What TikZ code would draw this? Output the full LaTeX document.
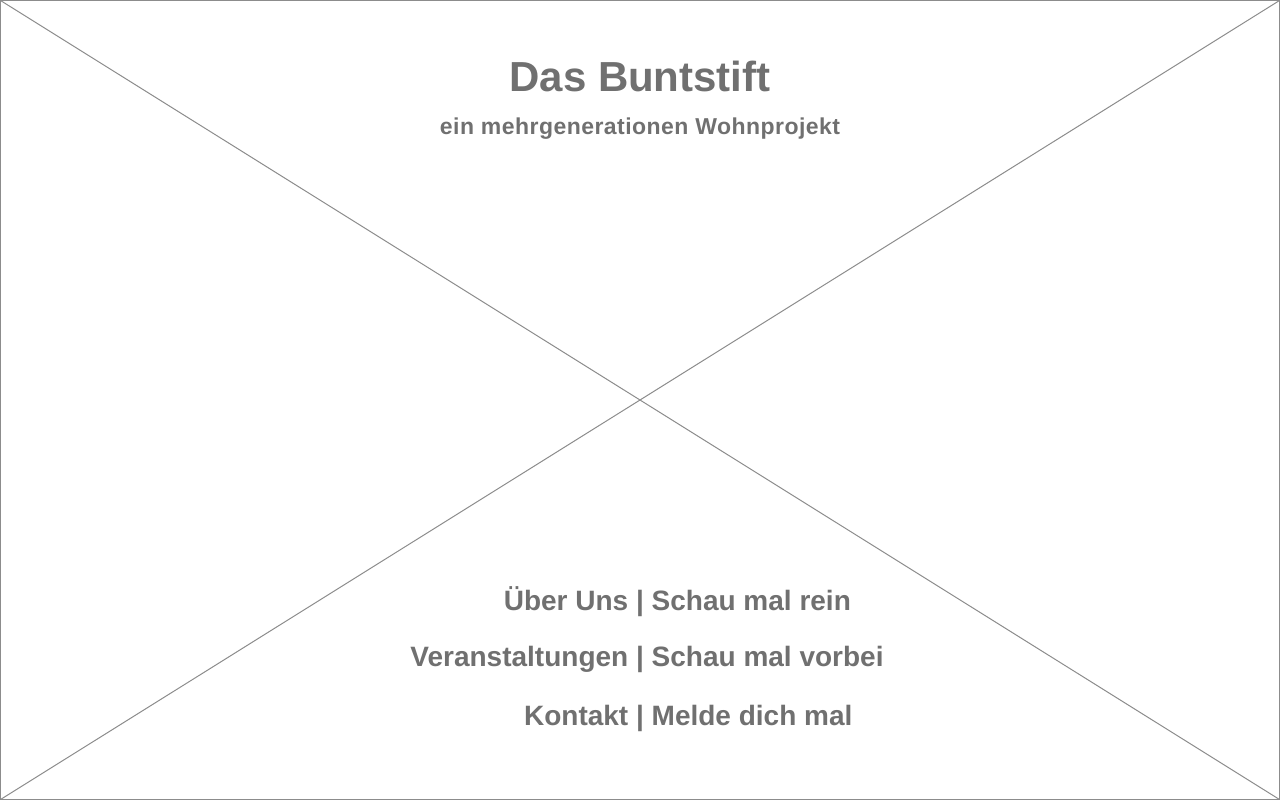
\documentclass[tikz,border=0pt]{standalone}
\usepackage{fontspec}
\setmainfont{Liberation Sans}
\newfontfamily\hv{Liberation Sans}
\newfontfamily\hvsp{Liberation Sans}[LetterSpace=2]
\definecolor{txtgray}{HTML}{707070}
\definecolor{linegray}{HTML}{8C8C8C}
\begin{document}
\begin{tikzpicture}[x=1pt,y=-1pt,
  txt/.style={inner sep=0pt,anchor=base,text=txtgray,font=\hv\bfseries},
  frame/.style={draw=linegray,line width=1pt}]
\useasboundingbox (0,0) rectangle (1280,800);
\coordinate (tl) at (0.5,0.5);
\coordinate (tr) at (1279.5,0.5);
\coordinate (bl) at (0.5,799.5);
\coordinate (br) at (1279.5,799.5);
\draw[frame] (tl) rectangle (br);
\draw[frame] (tl) -- (br);
\draw[frame] (tr) -- (bl);
\node[txt,font=\hv\bfseries\fontsize{42}{48}\selectfont] (title) at (640,91.7) {Das Buntstift};
\node[txt,font=\hvsp\bfseries\fontsize{23}{27}\selectfont] (sub) at (640,134) {ein mehrgenerationen Wohnprojekt};
\tikzset{menu/.style={txt,font=\hv\bfseries\fontsize{28}{32}\selectfont}}
\node[menu] (m1) at (640,610.7) {\makebox[0pt][r]{Über Uns }|\makebox[0pt][l]{ Schau mal rein}};
\node[menu] (m2) at (640,666.7) {\makebox[0pt][r]{Veranstaltungen }|\makebox[0pt][l]{ Schau mal vorbei}};
\node[menu] (m3) at (640,725) {\makebox[0pt][r]{Kontakt }|\makebox[0pt][l]{ Melde dich mal}};
\end{tikzpicture}
\end{document}
